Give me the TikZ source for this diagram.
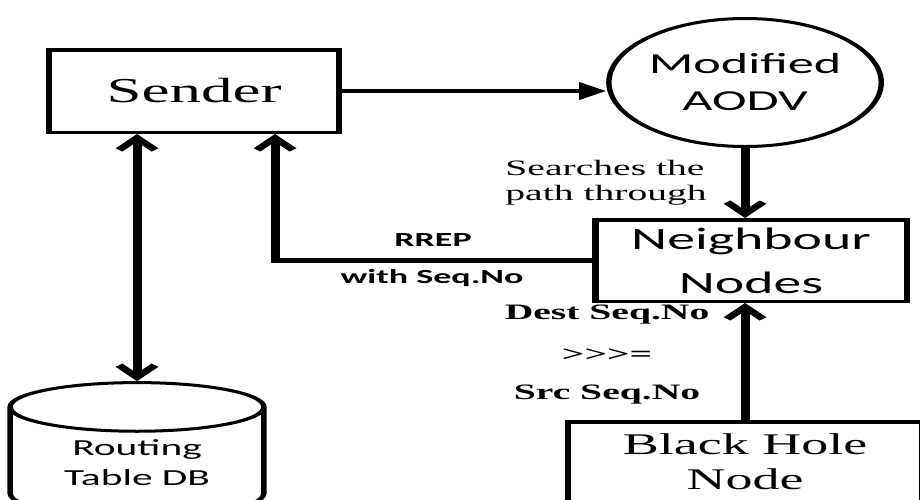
\documentclass[tikz,border=0pt]{standalone}
\usepackage{fontspec}
\setmainfont{Liberation Serif}
\newfontfamily\calibfont{Carlito}
\usetikzlibrary{shapes}
\usetikzlibrary{arrows.meta}

\begin{document}
\begin{tikzpicture}[x=1pt, y=-1pt]
	\tikzset{block/.style = {shape=rectangle, draw, line width=3.5pt, align=center, inner sep=0pt}}
	\tikzset{proto/.style = {shape=ellipse, draw, line width=3pt, align=center, inner sep=0pt}}
	\tikzset{store/.style = {shape=cylinder, shape border rotate=90, draw, line width=3pt,
			aspect=0.6, align=center, inner sep=0pt}}
	\tikzset{edge/.style = {-{Straight Barb[length=12pt, width=20pt]}, line width=5pt}}
	\tikzset{edgebi/.style = {{Straight Barb[length=12pt, width=20pt]}-{Straight Barb[length=12pt, width=20pt]}, line width=5pt}}
	\tikzset{edgefill/.style = {-{Triangle[length=15pt, width=17pt]}, line width=4.5pt}}
	\tikzset{lbl/.style = {align=center, inner sep=0pt, font=\bfseries\fontsize{22}{25}\selectfont}}

	\useasboundingbox (0,0) rectangle (920,499);
	\clip (0,0) rectangle (920,499);
	\begin{scope}[x=0.5556pt, transform canvas={xscale=1.8}]

	% vertices
	\node[block, minimum width=161pt, minimum height=82.5pt,
		font=\fontsize{35}{40}\selectfont] (sender) at (194,91) {Sender};
	\node[proto, minimum width=139pt, minimum height=128pt,
		font=\calibfont\fontsize{29}{37}\selectfont] (aodv) at (745,82.5) {Modified\\AODV};
	\node[block, minimum width=173pt, minimum height=81.5pt,
		font=\calibfont\fontsize{31}{44}\selectfont] (neigh) at (751,260.5) {Neighbour\\Nodes};
	\node[block, minimum width=197pt, minimum height=80.5pt,
		font=\fontsize{30}{35}\selectfont] (bhole) at (745,462) {Black Hole\\Node};
	\node[store, minimum width=141pt, minimum height=135pt,
		font=\calibfont\fontsize{23}{30}\selectfont] (db) at (137,463) {Routing\\Table DB};

	% labels
	\node[align=left, inner sep=0pt, font=\fontsize{22}{25}\selectfont] (search) at (606,183) {Searches the\\path through};
	\node[lbl, font=\calibfont\bfseries\fontsize{20}{24}\selectfont] (rrep) at (433,240) {RREP};
	\node[lbl, font=\calibfont\bfseries\fontsize{20}{24}\selectfont] (seqno) at (432,278) {with Seq.No};
	\node[lbl] (dest) at (607,315) {Dest Seq.No};
	\node[lbl] (cmp) at (607,355) {>{}>{}>=};
	\node[lbl] (src) at (607,395) {Src Seq.No};

	%edges
	\draw[edgefill] (sender.east) -- (sender.east -| aodv.west);
	\draw[edge] (aodv.south) -- (aodv.south |- neigh.north);
	\draw[edge] (bhole.north) -- (bhole.north |- neigh.south);
	\draw[edge] (neigh.west) -| ([xshift=45pt]sender.south);
	\draw[edgebi] (db.north) -- (db.north |- sender.south);

	\end{scope}
\end{tikzpicture}
\end{document}
